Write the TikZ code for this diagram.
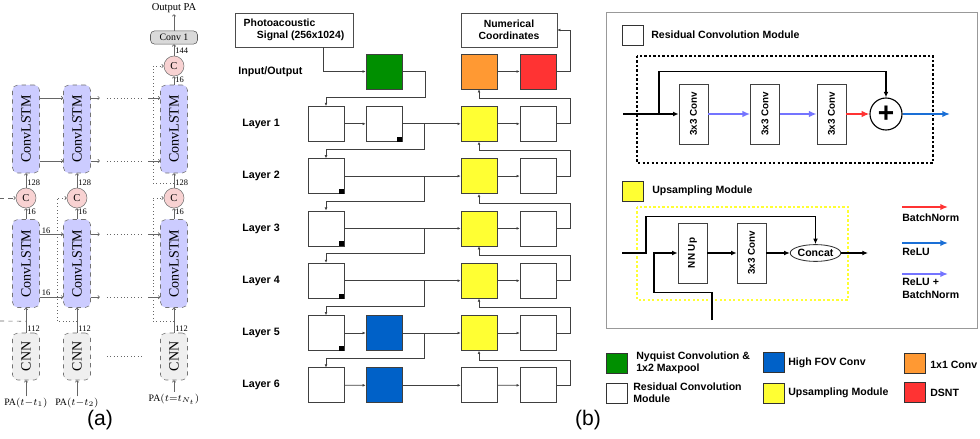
\documentclass[tikz,border=0pt]{standalone}
\usepackage{fontspec}
\setmainfont{Liberation Serif}
\setsansfont{Liberation Sans}
\usepackage{tikz}
\usetikzlibrary{arrows.meta,calc,shapes.geometric}
\definecolor{LstmFill}{HTML}{CCCCFF}
\definecolor{CatFill}{HTML}{F8D2D2}
\definecolor{CnnFill}{HTML}{EFEFEF}
\definecolor{NetGreen}{HTML}{008F00}
\definecolor{NetBlue}{HTML}{0061C8}
\definecolor{NetYellow}{HTML}{FFFF33}
\definecolor{NetOrange}{HTML}{FF9933}
\definecolor{NetRed}{HTML}{FF3333}
\definecolor{ReluBlue}{HTML}{1A6FD6}
\definecolor{ReluBn}{HTML}{7474FF}
\tikzset{
  pat lstm/.style={
    rounded corners=0.13cm,
    draw=black!55, dashed,
    fill=LstmFill,
    minimum width=0.675cm,
    minimum height=2.2cm,
    inner sep=0pt,
    label={[rotate=90, font=\fontsize{10}{10}\selectfont]center:ConvLSTM}
  },
  pat cnn/.style={
    rounded corners=0.13cm,
    draw=black!55, dashed,
    fill=CnnFill,
    minimum width=0.675cm,
    minimum height=1.175cm,
    inner sep=0pt,
    label={[rotate=90, font=\fontsize{10}{10}\selectfont]center:CNN}
  },
  pat cat/.style={
    circle, draw=black!55, fill=CatFill,
    minimum size=0.5cm, inner sep=0pt,
    font=\fontsize{7.5}{7.5}\selectfont
  },
  pat convone/.style={
    rounded corners=0.1cm, draw=black!65, fill=black!15,
    minimum width=1.175cm, minimum height=0.33cm, inner sep=0pt,
    font=\fontsize{7}{7}\selectfont
  },
  pat num/.style={anchor=west, inner sep=0.8pt, font=\fontsize{6}{6.5}\selectfont},
  pat pa/.style={inner sep=1pt, font=\fontsize{7}{8}\selectfont},
  pat caption/.style={font=\sffamily\fontsize{15}{16}\selectfont},
  pat thin/.style={draw=black!60, line width=0.45pt, -{To[length=1.6pt,width=2.8pt]}},
  pat dots/.style={draw=black!60, line width=0.45pt, dotted},
  pat box/.style={
    draw=black!75, fill=white, line width=0.5pt,
    minimum width=0.9cm, minimum height=0.875cm, inner sep=0pt
  },
  pat head/.style={
    draw=black!70, fill=white, minimum height=0.85cm, inner sep=1pt,
    font=\sffamily\bfseries\fontsize{7.4}{8.8}\selectfont
  },
  pat lay/.style={anchor=west, inner sep=0pt, font=\sffamily\bfseries\fontsize{7.6}{8}\selectfont},
  pat wire/.style={draw=black!75, line width=0.5pt, -{Latex[length=2.2pt,width=2pt]}},
  pat key/.style={
    draw=black!80, fill=white, line width=0.6pt,
    minimum width=0.525cm, minimum height=0.5cm, inner sep=0pt
  },
  pat txt/.style={anchor=west, align=left, inner sep=0pt, font=\sffamily\bfseries\fontsize{7.5}{8.8}\selectfont},
  pat conv/.style={
    draw=black!75, fill=white, line width=0.5pt,
    minimum width=0.725cm, minimum height=1.5cm, inner sep=0pt,
    label={[rotate=90, font=\sffamily\bfseries\fontsize{7}{7}\selectfont]center:#1}
  },
  pat frame/.style={line width=1.6pt, dash pattern=on 1.6pt off 1.6pt},
  pat black/.style={draw=black, line width=0.8pt, -{Latex[length=4pt,width=3.4pt]}},
  pat bn/.style={draw=NetRed, line width=1.3pt, -{Latex[length=5.5pt,width=4.6pt]}},
  pat relu/.style={draw=ReluBlue, line width=1.3pt, -{Latex[length=5.5pt,width=4.6pt]}},
  pat relubn/.style={draw=ReluBn, line width=1.3pt, -{Latex[length=5.5pt,width=4.6pt]}}
}
\begin{document}
\begin{tikzpicture}[x=0.025cm, y=-0.025cm]
  \useasboundingbox (0,0) rectangle (980,439);

  \node[pat pa, font=\fontsize{7.5}{8}\selectfont] (outpa) at (174,8) {Output PA};
  \node[pat convone] (conv1) at (174,37.5) {Conv 1};
  \node[pat cat] (ctop) at (174,66) {C};
  \foreach \i/\x in {1/26,2/77,3/174} {
    \node[pat lstm] (lt\i) at (\x,129) {};
    \node[pat cat] (cm\i) at (\x,198) {C};
    \node[pat lstm] (lb\i) at (\x,263.5) {};
    \node[pat cnn] (cnn\i) at (\x,356.5) {};
  }
  \node[pat pa] (pa1) at (26,403) {PA$(t{-}t_1)$};
  \node[pat pa] (pa2) at (77,403) {PA$(t{-}t_2)$};
  \node[pat pa] (pa3) at (174,399) {PA$(t{=}t_{N_t})$};

  \foreach \i in {1,2,3} {
    \draw[pat thin] (pa\i.north) -- (cnn\i.south);
    \draw[pat thin] (cnn\i.north) -- node[pat num, pos=0.15] {112} (lb\i.south);
    \draw[pat thin] (lb\i.north) -- node[pat num, pos=0.67] {16} (cm\i.south);
    \draw[pat thin] (cm\i.north) -- node[pat num, pos=0.33] {128} (lt\i.south);
  }
  \draw[pat thin] (lt3.north) -- node[pat num, pos=0.55] {16} (ctop.south);
  \draw[pat thin] (ctop.north) -- node[pat num, pos=0.42] {144} (conv1.south);
  \draw[pat thin] (conv1.north) -- (outpa.south);

  \foreach \r/\f in {lt/0.15,lt/0.86,lb/0.17,lb/0.88} {
    \coordinate (h1) at ($(\r1.north east)!\f!(\r1.south east)$);
    \coordinate (h2) at ($(\r2.north east)!\f!(\r2.south east)$);
    \coordinate (h3) at ($(\r3.north west)!\f!(\r3.south west)$);
    \draw[pat thin] (h1) -- (h1 -| \r2.west);
    \draw[pat thin] (h2) -- ++(9,0);
    \draw[pat dots] ($(h2)+(16,0)$) -- ($(h3)+(-17,0)$);
    \draw[pat thin] ($(h3)+(-12,0)$) -- (h3);
  }
  \node[pat num, anchor=south] (n16a) at (46,235) {16};
  \node[pat num, anchor=south] (n16b) at (46,297) {16};
  \draw[pat dots] ($(cnn2.east)+(16,0)$) -- ($(cnn3.west)+(-17,0)$);

  \coordinate (fb1) at ($(cnn1.north)!0.46!(lb1.south)$);
  \coordinate (fb2) at ($(cnn2.north)!0.46!(lb2.south)$);
  \coordinate (fb3) at ($(cnn3.north)!0.46!(lb3.south)$);
  \coordinate (ft3) at ($(cm3.north)!0.33!(lt3.south)$);
  \draw[pat thin, dashed] (0,198) -- (cm1.west);
  \draw[pat dots, dashed] (0,321) -- (fb1);
  \draw[pat thin, dotted] (fb2) -- ++(-20,0) |- (cm2.west);
  \draw[pat thin, dotted] (fb3) -- ++(-21,0) |- (cm3.west);
  \draw[pat thin, dotted] (ft3) -- ++(-21,0) |- (ctop.west);

  \node[pat caption] (capa) at (100,420) {(a)};

  \node[pat head, minimum width=2.95cm, align=left] (sig) at (294,30)
    {Photoacoustic\\\hspace*{0.33cm}Signal (256x1024)};
  \node[pat head, minimum width=2.4cm, align=center] (num) at (509,30)
    {Numerical\\Coordinates};

  \node[pat lay] (lay0) at (238,71.5) {Input/Output};
  \node[pat box, fill=NetGreen] (b0) at (384,71.5) {};
  \node[pat box, fill=NetOrange] (c0) at (479,71.5) {};
  \node[pat box, fill=NetRed] (d0) at (538,71.5) {};
  \foreach \i in {1,...,6} {
    \node[pat lay] (lay\i) at (242,{71.5+52.3*\i}) {Layer \i};
    \node[pat box] (a\i) at (326,{71.5+52.3*\i}) {};
    \node[pat box, fill=NetYellow] (c\i) at (479,{71.5+52.3*\i}) {};
    \node[pat box] (d\i) at (538,{71.5+52.3*\i}) {};
  }
  \node[pat box] (b1) at (384,123.8) {};
  \node[pat box, fill=NetBlue] (b5) at (384,333) {};
  \node[pat box, fill=NetBlue] (b6) at (384,385.3) {};
  \node[pat box] (c6) at (479,385.3) {};
  \foreach \n in {b1,a2,a3,a4,a5}
    \fill (\n.south east) rectangle ++(-5,-5);

  \draw[pat wire] ($(sig.south)+(29,0)$) |- (b0.west);
  \draw[pat wire] (b0.east) -| ($(a1.north)+(99,-9)$) -| (a1.north);
  \draw[pat wire] (d0.east) -| ($(num.east)+(13,0)$) -- (num.east);
  \foreach \i in {1,5,6}
    \draw[pat wire] (a\i) -- (b\i);
  \foreach \s/\i in {b1/1,a2/2,a3/3,a4/4,b5/5,b6/6}
    \draw[pat wire] (\s) -- (c\i);
  \foreach \i in {0,...,6}
    \draw[pat wire] (c\i) -- (d\i);
  \foreach \i/\j in {1/2,2/3,3/4,4/5,5/6}
    \draw[pat wire] ($(c\i.west)+(-36,0)$) |- ($(a\j.north)+(0,-9)$) -- (a\j.north);
  \foreach \i/\k in {1/0,2/1,3/2,4/3,5/4,6/5}
    \draw[pat wire] (d\i.east) -| ($(c\k.south)+(91,9)$) -| (c\k.south);

  \node[pat caption] (capb) at (588,420) {(b)};

  \draw[black!40, line width=0.6pt] (606,12) rectangle (977,328);

  \node[pat key] (keyres) at (632.5,35) {};
  \node[pat txt] (txtres) at (651,35) {Residual Convolution Module};
  \draw[pat frame] (637,56) rectangle (933,163);
  \node[pat conv={3x3 Conv}] (rc1) at (693.5,114) {};
  \node[pat conv={3x3 Conv}] (rc2) at (765,114) {};
  \node[pat conv={3x3 Conv}] (rc3) at (831.5,114) {};
  \node[circle, draw, line width=0.8pt, fill=white, minimum size=0.8cm, inner sep=0pt,
    font=\sffamily\bfseries\fontsize{20}{20}\selectfont] (plus) at (886,114) {+};
  \coordinate (resin) at (623,114);
  \coordinate (resout) at (950,114);
  \draw[pat black] (resin) -- (rc1);
  \draw[pat black] ($(resin)+(36,0)$) |- ($(plus.north)+(0,-26)$) -- (plus.north);
  \draw[pat relubn] (rc1) -- (rc2);
  \draw[pat relubn] (rc2) -- (rc3);
  \draw[pat bn] (rc3) -- (plus);
  \draw[pat relu] (plus) -- (resout);

  \node[pat key, fill=NetYellow] (keyup) at (633,191) {};
  \node[pat txt] (txtup) at (652,191) {Upsampling Module};
  \draw[pat frame, NetYellow] (637,207) rectangle (848,300);
  \node[pat conv={NN Up}] (nnup) at (692.5,253) {};
  \node[pat conv={3x3 Conv}] (upconv) at (751.5,253) {};
  \node[ellipse, draw=black!80, line width=0.6pt, fill=white, minimum width=1.225cm,
    minimum height=0.42cm, inner sep=0pt,
    font=\sffamily\bfseries\fontsize{7.5}{8}\selectfont] (concat) at (815.5,253) {Concat};
  \coordinate (upin) at (622,253);
  \coordinate (upout) at (868,253);
  \coordinate (skipin) at (712,320);
  \draw[pat black] (upin) -- ++(24,0) |- ($(nnup.north -| concat.north)+(0,-6)$) -- (concat.north);
  \draw[pat black] (skipin) |- ($(nnup.south)+(-38.5,9)$) |- (nnup.west);
  \draw[pat black] (nnup) -- (upconv);
  \draw[pat black] (upconv) -- (concat);
  \draw[pat black] (concat) -- (upout);

  \coordinate (kbn) at (902,207);
  \coordinate (krelu) at (902,243);
  \coordinate (krb) at (902,274);
  \draw[pat bn] (kbn) -- ++(46,0);
  \draw[pat relu] (krelu) -- ++(46,0);
  \draw[pat relubn] (krb) -- ++(46,0);
  \node[pat txt] (tbn) at (902,218) {BatchNorm};
  \node[pat txt] (trelu) at (902,252) {ReLU};
  \node[pat txt] (trb) at (902,288.5) {ReLU +\\BatchNorm};

  \node[pat key, fill=NetGreen] (kgreen) at (616.5,363) {};
  \node[pat txt] (tgreen) at (636,363) {Nyquist Convolution \&\\1x2 Maxpool};
  \node[pat key] (kwhite) at (616.5,393.5) {};
  \node[pat txt] (twhite) at (633,393) {Residual Convolution\\Module};
  \node[pat key, fill=NetBlue] (kblue) at (773.5,362.5) {};
  \node[pat txt] (tblue) at (788,363) {High FOV Conv};
  \node[pat key, fill=NetYellow] (kyellow) at (773.5,393) {};
  \node[pat txt] (tyellow) at (788,393) {Upsampling Module};
  \node[pat key, fill=NetOrange] (korange) at (915,363.5) {};
  \node[pat txt] (torange) at (930,365) {1x1 Conv};
  \node[pat key, fill=NetRed] (kred) at (915,392.5) {};
  \node[pat txt] (tred) at (930,393) {DSNT};
\end{tikzpicture}
\end{document}
